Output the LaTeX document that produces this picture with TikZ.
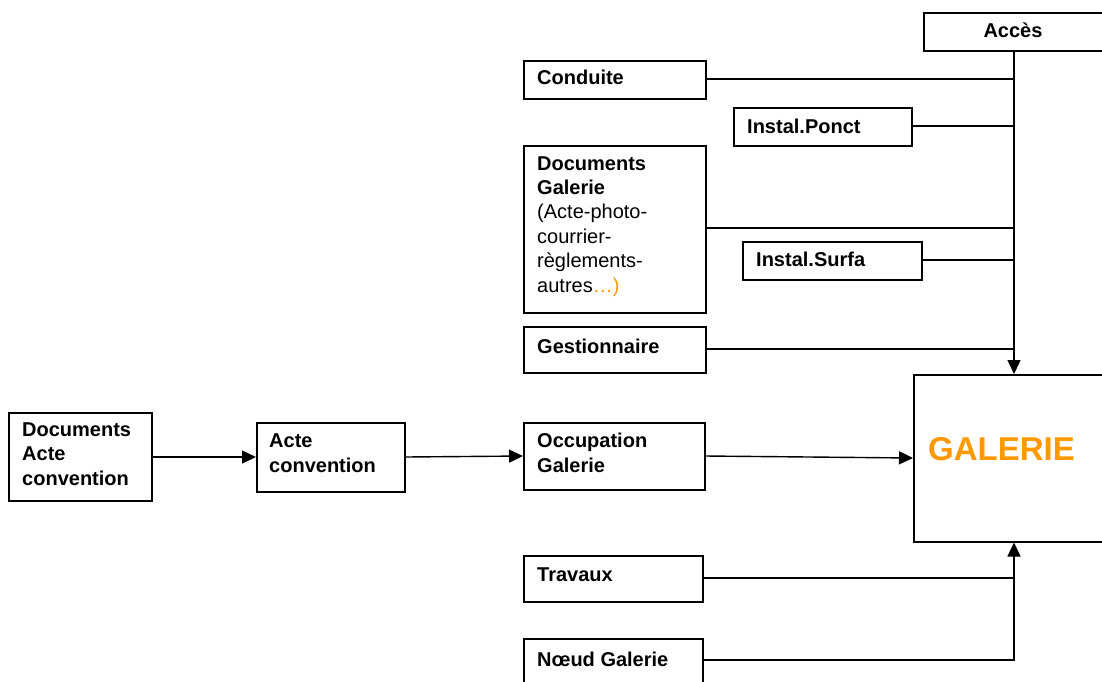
\documentclass[tikz,border=0pt]{standalone}
\usepackage{fontspec}
\setmainfont{Liberation Sans}
\usetikzlibrary{arrows.meta}
\definecolor{orng}{HTML}{FF9900}
\tikzset{
  box/.style={draw, line width=1.5pt, inner sep=0pt, anchor=north west},
  txt/.style={inner sep=0pt, anchor=base west, align=left, font=\fontsize{20}{24.4}\selectfont\bfseries},
  conn/.style={line width=1.4pt},
  arr/.style={line width=1.4pt, -{Triangle[length=14pt,width=13pt]}}
}
\begin{document}
\begin{tikzpicture}[x=1pt,y=-1pt]
\useasboundingbox (0,0) rectangle (1102,681);
% boxes
\node[box, minimum width=190pt, minimum height=38pt] (acces) at (923,12) {};
\node[box, minimum width=182pt, minimum height=38pt] (conduite) at (523,60) {};
\node[box, minimum width=178pt, minimum height=38pt] (ponct) at (733,107) {};
\node[box, minimum width=182pt, minimum height=167pt] (docgal) at (523,145) {};
\node[box, minimum width=179pt, minimum height=38pt] (surfa) at (742,241) {};
\node[box, minimum width=182pt, minimum height=46pt] (gest) at (523,326) {};
\node[box, minimum width=200pt, minimum height=167pt] (galerie) at (913,374) {};
\node[box, minimum width=143pt, minimum height=88pt] (docacte) at (8,412) {};
\node[box, minimum width=148pt, minimum height=69pt] (acte) at (256,422) {};
\node[box, minimum width=181pt, minimum height=67pt] (occup) at (523,422) {};
\node[box, minimum width=179pt, minimum height=46pt] (travaux) at (523,555) {};
\node[box, minimum width=179pt, minimum height=46pt] (noeud) at (523,638) {};
% texts (multi-line texts anchored at the baseline of their last line)
\node[txt, anchor=base] (acces-t) at (1013,37) {Accès};
\node[txt] (conduite-t) at (537,84) {Conduite};
\node[txt] (ponct-t) at (747,133) {Instal.Ponct};
\node[txt] (docgal-t) at (537,292) {Documents\\Galerie\\\mdseries(Acte-photo-\\\mdseries courrier-\\\mdseries règlements-\\\mdseries autres\textcolor{orng}{…)}};
\node[txt] (surfa-t) at (756,266) {Instal.Surfa};
\node[txt] (gest-t) at (537,353) {Gestionnaire};
\node[txt] (docacte-t) at (22,485) {Documents\\Acte\\convention};
\node[txt] (acte-t) at (269,472) {Acte\\convention};
\node[txt] (occup-t) at (537,472) {Occupation\\Galerie};
\node[txt, font=\fontsize{33}{40}\selectfont\bfseries, text=orng] (galerie-t) at (928,460) {GALERIE};
\node[txt] (travaux-t) at (537,581) {Travaux};
\node[txt] (noeud-t) at (537,666) {Nœud Galerie};
% junction coordinates on the vertical bus
\coordinate (jc) at (1014,79);
\coordinate (jp) at (1014,126);
\coordinate (jd) at (1014,228);
\coordinate (js) at (1014,260);
\coordinate (jg) at (1014,349);
\coordinate (jt) at (1014,578);
\coordinate (jn) at (1014,660);
% connectors
\draw[arr] (acces.south -| jc) -- (galerie.north -| jc);
\draw[conn] (conduite.east |- jc) -- (jc);
\draw[conn] (ponct.east |- jp) -- (jp);
\draw[conn] (docgal.east |- jd) -- (jd);
\draw[conn] (surfa.east |- js) -- (js);
\draw[conn] (gest.east |- jg) -- (jg);
\draw[conn] (travaux.east |- jt) -- (jt);
\draw[arr] (noeud.east |- jn) -- (jn) -- (galerie.south -| jn);
\draw[arr] (docacte.east |- 0,457) -- (acte.west |- 0,457);
\draw[arr] (acte.east |- 0,457) -- (occup.west |- 0,456);
\draw[arr] (occup.east |- 0,456) -- (galerie.west |- 0,458);
\end{tikzpicture}
\end{document}
